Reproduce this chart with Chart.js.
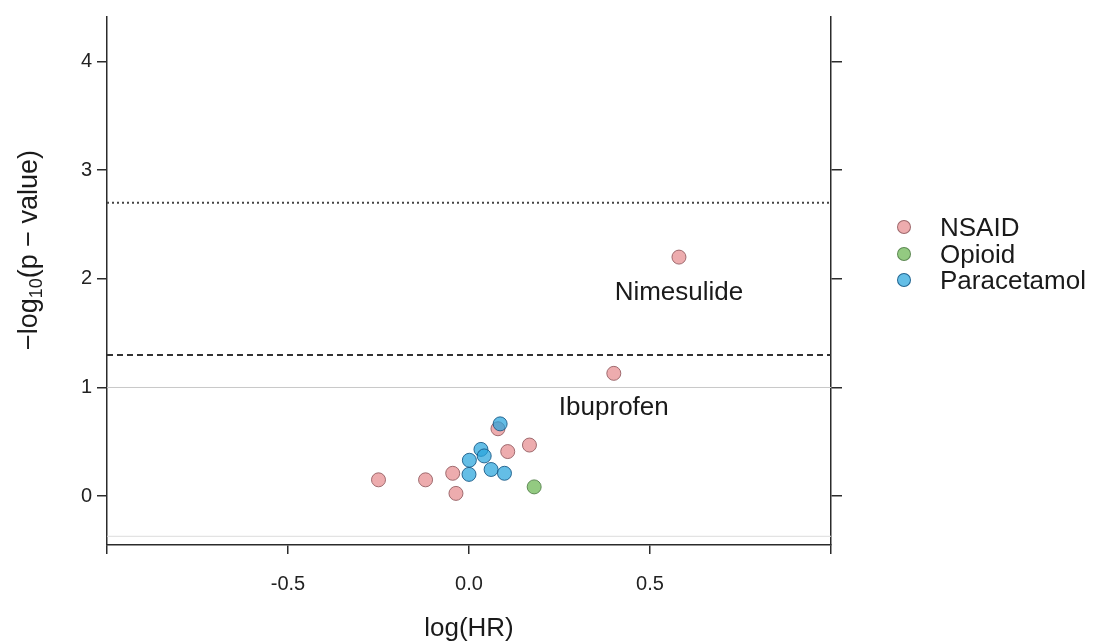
<!DOCTYPE html>
<html>
<head>
<meta charset="utf-8">
<script src="https://cdn.jsdelivr.net/npm/chart.js@4.4.1/dist/chart.umd.min.js"></script>
<style>
    html, body { margin: 0; padding: 0; background: #fff; }
    #wrap { position: relative; width: 1093px; height: 644px; }
    #legend {
        position: absolute; left: 897px; top: 214px;
        font-family: "Liberation Sans", Arial, sans-serif;
        font-size: 26px; line-height: 26.5px; color: #1a1a1a;
    }
    #legend div { display: flex; align-items: center; white-space: nowrap; }
    #legend span.dot {
        display: inline-block; width: 14px; height: 14px; border-radius: 50%;
        margin-right: 29px; box-sizing: border-box; border: 1px solid #666;
    }
</style>
</head>
<body>
<div id="wrap">
    <canvas id="myChart" width="1093" height="644"></canvas>
    <div id="legend"></div>
</div>
<script>
// data: log(HR) and -log10(p-value)
const groups = ["NSAID", "Opioid", "Paracetamol"];

const nsaidX = [-0.25, -0.12, -0.045, -0.036, 0.08, 0.107, 0.167, 0.40, 0.58];
const nsaidY = [0.15, 0.15, 0.21, 0.025, 0.62, 0.41, 0.47, 1.13, 2.20];

const opioidX = [0.18];
const opioidY = [0.085];

const paraX = [0.086, 0.033, 0.042, 0.001, 0.0, 0.061, 0.098];
const paraY = [0.665, 0.43, 0.37, 0.33, 0.20, 0.245, 0.21];

// labelled drugs
const labelNames = ["Nimesulide", "Ibuprofen"];
const labelX = [0.58, 0.40];
const labelY = [1.87, 0.81];

// reference lines
const bonferroniLine = 2.70;
const nominalLine = 1.30;
const greyLines = [1.0, -0.37];

const xTicks = [-1, -0.5, 0, 0.5, 1];
const yTicks = [0, 1, 2, 3, 4];

const fills = ["rgba(234,158,160,0.85)", "rgba(135,196,115,0.9)", "rgba(40,165,220,0.72)"];
const edges = ["rgba(150,95,100,0.9)", "rgba(85,130,75,0.9)", "rgba(20,85,130,0.85)"];

const FONT = '"Liberation Sans", Arial, sans-serif';

let toPoints = (xs, ys) => xs.map((x, i) => ({ x: x, y: ys[i] }));
let hline = (y) => [{ x: -1, y: y }, { x: 1, y: y }];

// legend built from the same groups/colours
const legendBox = document.getElementById("legend");
groups.forEach((g, i) => {
    const row = document.createElement("div");
    row.innerHTML = `<span class="dot" style="background:${fills[i]};border-color:${edges[i]}"></span>${g}`;
    legendBox.appendChild(row);
});

const textPlugin = {
    id: "texts",
    afterDatasetsDraw(chart) {
        const { ctx, scales } = chart;
        ctx.save();
        ctx.fillStyle = "#1a1a1a";
        ctx.textAlign = "center";
        ctx.textBaseline = "middle";
        ctx.font = `26px ${FONT}`;
        labelNames.forEach((name, i) => {
            ctx.fillText(name, scales.x.getPixelForValue(labelX[i]), scales.y.getPixelForValue(labelY[i]));
        });

        // y axis title: -log10(p-value) with subscript, like R plotmath
        ctx.translate(30, 250);
        ctx.rotate(-Math.PI / 2);
        ctx.textAlign = "left";
        ctx.textBaseline = "middle";
        const big = `27px ${FONT}`, small = `18px ${FONT}`;
        const parts = [["\u2212log", big, 0], ["10", small, 7], ["(p \u2212 value)", big, 0]];
        let w = 0;
        parts.forEach(p => { ctx.font = p[1]; w += ctx.measureText(p[0]).width; });
        let x = -w / 2;
        parts.forEach(p => {
            ctx.font = p[1];
            ctx.fillText(p[0], x, p[2]);
            x += ctx.measureText(p[0]).width;
        });
        ctx.restore();
    }
};

const axisColor = "#2b2b2b";

new Chart(document.getElementById("myChart"), {
    type: "scatter",
    data: {
        datasets: [
            {
                type: "line", data: hline(greyLines[0]), borderColor: "#c8c8c8", borderWidth: 1,
                pointRadius: 0, order: 5
            },
            {
                type: "line", data: hline(greyLines[1]), borderColor: "#dcdcdc", borderWidth: 1,
                pointRadius: 0, order: 5
            },
            {
                type: "line", data: hline(bonferroniLine), borderColor: "#444", borderWidth: 2,
                borderDash: [2, 3], pointRadius: 0, order: 4
            },
            {
                type: "line", data: hline(nominalLine), borderColor: "#333", borderWidth: 2,
                borderDash: [6, 4], pointRadius: 0, order: 4
            },
            {
                label: groups[0], data: toPoints(nsaidX, nsaidY),
                backgroundColor: fills[0], borderColor: edges[0], borderWidth: 1, pointRadius: 7, order: 1
            },
            {
                label: groups[1], data: toPoints(opioidX, opioidY),
                backgroundColor: fills[1], borderColor: edges[1], borderWidth: 1, pointRadius: 7, order: 1
            },
            {
                label: groups[2], data: toPoints(paraX, paraY),
                backgroundColor: fills[2], borderColor: edges[2], borderWidth: 1, pointRadius: 7, order: 0
            }
        ]
    },
    options: {
        responsive: false,
        animation: false,
        layout: { padding: { top: 9, left: 0, right: 0, bottom: 0 } },
        plugins: { legend: { display: false }, tooltip: { enabled: false } },
        scales: {
            x: {
                type: "linear", position: "bottom", min: -1, max: 1,
                afterBuildTicks: (s) => { s.ticks = xTicks.map(v => ({ value: v })); },
                afterFit: (s) => { s.height = 99; },
                grid: { drawOnChartArea: false, drawTicks: true, tickLength: 9, tickColor: axisColor, lineWidth: 1.5 },
                border: { display: true, color: axisColor, width: 1.5 },
                ticks: {
                    font: { family: FONT, size: 20 }, color: "#222", padding: 18, maxRotation: 0,
                    callback: (v) => (Math.abs(v) === 1 ? "" : v.toFixed(1))
                },
                title: {
                    display: true, text: "log(HR)", color: "#1a1a1a",
                    font: { family: FONT, size: 26 }, padding: { top: 0, bottom: 0 }
                }
            },
            y: {
                type: "linear", position: "left", min: -0.45, max: 4.41,
                afterBuildTicks: (s) => { s.ticks = yTicks.map(v => ({ value: v })); },
                afterFit: (s) => { s.width = 107; },
                grid: { drawOnChartArea: false, drawTicks: true, tickLength: 10, tickColor: axisColor, lineWidth: 1.5 },
                border: { display: true, color: axisColor, width: 1.5 },
                ticks: { font: { family: FONT, size: 20 }, color: "#222", padding: 5 }
            },
            y2: {
                type: "linear", position: "right", min: -0.45, max: 4.41,
                afterBuildTicks: (s) => { s.ticks = yTicks.map(v => ({ value: v })); },
                afterFit: (s) => { s.width = 262; },
                grid: { drawOnChartArea: false, drawTicks: true, tickLength: 11, tickColor: axisColor, lineWidth: 1.5 },
                border: { display: true, color: axisColor, width: 1.5 },
                ticks: { display: false }
            }
        }
    },
    plugins: [textPlugin]
});
</script>
</body>
</html>
